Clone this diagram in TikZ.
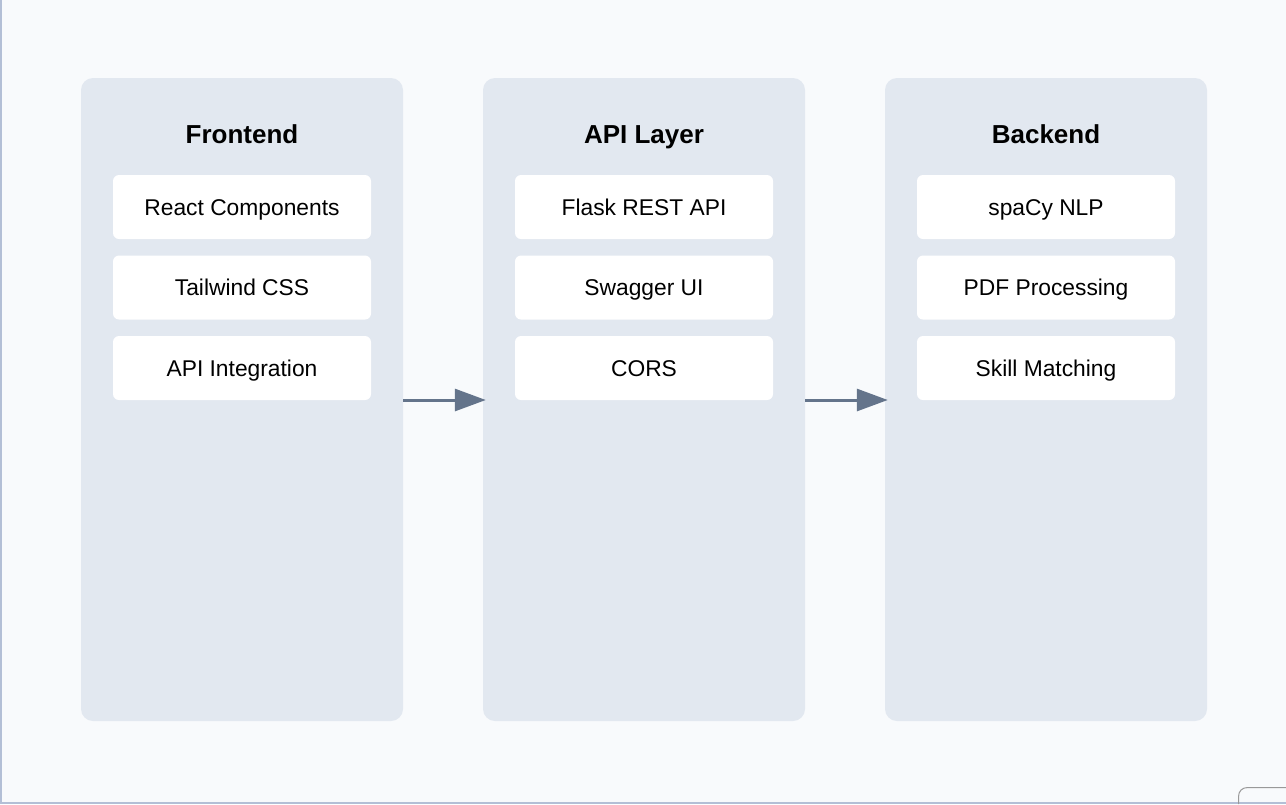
\documentclass[tikz,border=0pt]{standalone}
\usepackage{fontspec}
\setmainfont{Liberation Sans}
\usetikzlibrary{arrows.meta}

\definecolor{pagebg}{HTML}{F8FAFC}
\definecolor{colbg}{HTML}{E2E8F0}
\definecolor{arrowgray}{HTML}{64748B}
\definecolor{edgeblue}{HTML}{B3BFD6}

\tikzset{
	layer/.style = {fill=colbg, rounded corners=12pt, minimum width=322pt, minimum height=643pt, inner sep=0pt},
	title/.style = {font=\fontsize{26}{30}\selectfont\bfseries, inner sep=0pt, text height=18.6pt, text depth=0pt},
	item/.style = {fill=white, rounded corners=6pt, minimum width=258pt, minimum height=64pt,
		inner sep=0pt, text height=16pt, text depth=0pt, font=\fontsize{22.8}{27}\selectfont},
	flow/.style = {draw=arrowgray, line width=3pt, -{Triangle[length=31pt, width=22pt]}}
}

\begin{document}
\begin{tikzpicture}[x=1pt, y=-1pt]
\useasboundingbox (0, 0) rectangle (1286, 804);
\fill[pagebg] (0, 0) rectangle (1286, 804);
\fill[edgeblue] (0, 0) rectangle (1.5, 804);
\fill[edgeblue] (0, 801.5) rectangle (1286, 804);
\draw[color=black!40, line width=1pt]
	(1238.5, 804) -- (1238.5, 797) .. controls (1238.5, 791) and (1242, 787.5) ..
	(1248, 787.5) -- (1286, 787.5);

% three layers
\node[layer] (front) at (242, 399.5) {};
\node[layer] (api) at (644, 399.5) {};
\node[layer] (back) at (1046, 399.5) {};

\node[title] (fronttitle) at (242, 134) {Frontend};
\node[title] (apititle) at (644, 134) {API Layer};
\node[title] (backtitle) at (1046, 134) {Backend};

\node[item] (react) at (242, 207) {React Components};
\node[item] (tailwind) at (242, 287.5) {Tailwind CSS};
\node[item] (integration) at (242, 368) {API Integration};

\node[item] (flask) at (644, 207) {Flask REST API};
\node[item] (swagger) at (644, 287.5) {Swagger UI};
\node[item] (cors) at (644, 368) {CORS};

\node[item] (spacy) at (1046, 207) {spaCy NLP};
\node[item] (pdf) at (1046, 287.5) {PDF Processing};
\node[item] (skill) at (1046, 368) {Skill Matching};

\draw[flow] ([yshift=-0.5pt]front.east) -- ([xshift=3pt, yshift=-0.5pt]api.west);
\draw[flow] ([yshift=-0.5pt]api.east) -- ([xshift=3pt, yshift=-0.5pt]back.west);
\end{tikzpicture}
\end{document}
